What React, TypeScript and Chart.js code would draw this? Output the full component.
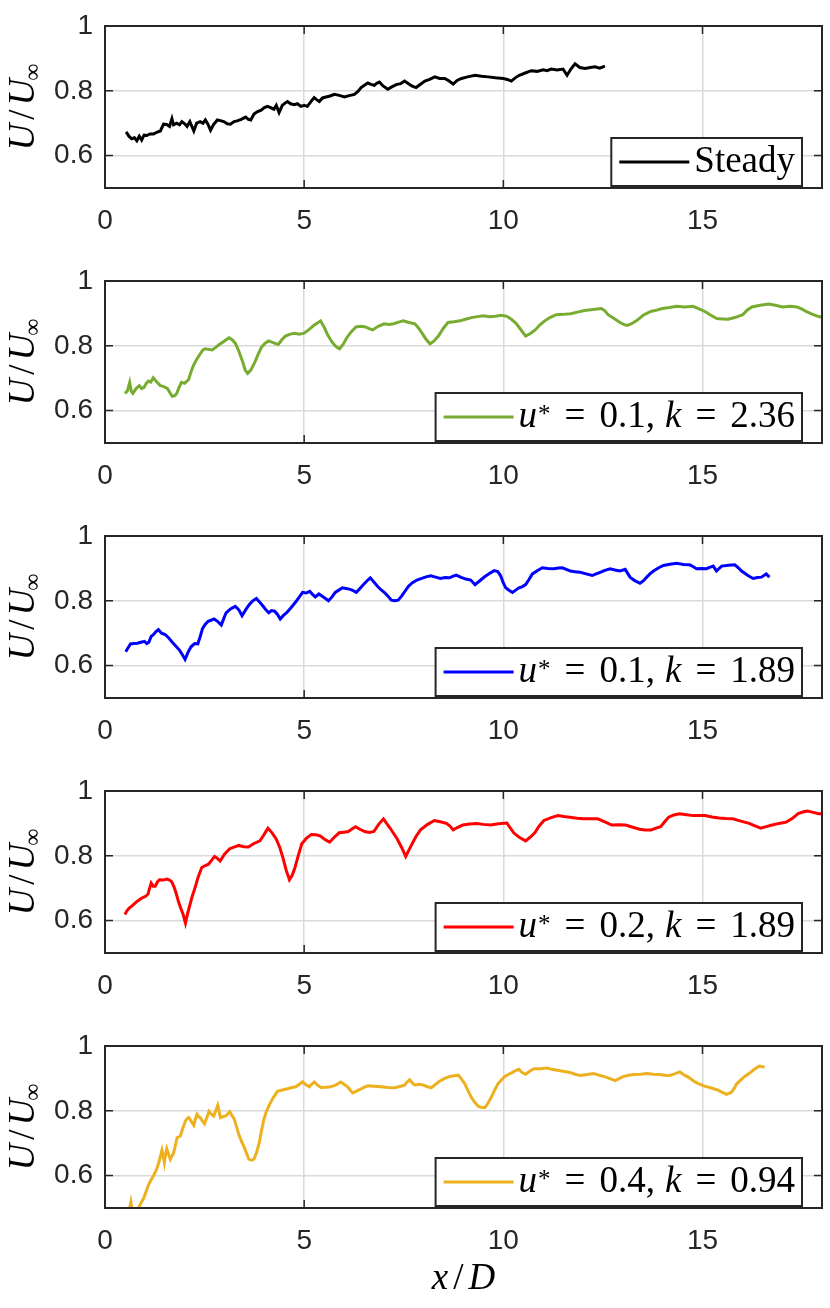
import React, { useEffect, useRef } from 'react';
import { Chart, registerables } from 'chart.js';

Chart.register(...registerables);

// x/D ticks and U/U_inf ticks
const xTicks = [0, 5, 10, 15];
const yTicks = [0.6, 0.8, 1];

// values, [x/D, U/U_inf]
const steady: [number, number][] = [
  [0.53, 0.673], [0.6, 0.66], [0.67, 0.652], [0.74, 0.655], [0.8, 0.646], [0.86, 0.66], [0.92, 0.648],
  [0.98, 0.663], [1.05, 0.662], [1.13, 0.667], [1.22, 0.667], [1.3, 0.672], [1.39, 0.676], [1.47, 0.697],
  [1.55, 0.696], [1.62, 0.69], [1.68, 0.714], [1.72, 0.695], [1.8, 0.7], [1.87, 0.695], [1.93, 0.705],
  [2.0, 0.698], [2.06, 0.69], [2.13, 0.705], [2.23, 0.676], [2.3, 0.7], [2.39, 0.705], [2.46, 0.7],
  [2.52, 0.71], [2.58, 0.698], [2.65, 0.678], [2.72, 0.695], [2.82, 0.71], [2.9, 0.708], [2.98, 0.705],
  [3.07, 0.698], [3.15, 0.697], [3.24, 0.705], [3.32, 0.707], [3.42, 0.712], [3.53, 0.719], [3.6, 0.712],
  [3.66, 0.71], [3.74, 0.728], [3.82, 0.735], [3.92, 0.74], [4.0, 0.748], [4.08, 0.752], [4.16, 0.748],
  [4.24, 0.743], [4.3, 0.755], [4.37, 0.733], [4.45, 0.755], [4.52, 0.762], [4.58, 0.767], [4.66, 0.76],
  [4.75, 0.757], [4.83, 0.76], [4.92, 0.752], [5.0, 0.755], [5.08, 0.752], [5.16, 0.765], [5.25, 0.779],
  [5.32, 0.772], [5.38, 0.767], [5.46, 0.778], [5.55, 0.781], [5.65, 0.784], [5.76, 0.789], [5.88, 0.786],
  [6.01, 0.781], [6.13, 0.785], [6.26, 0.789], [6.35, 0.798], [6.43, 0.81], [6.52, 0.818], [6.6, 0.824],
  [6.68, 0.82], [6.76, 0.817], [6.82, 0.823], [6.89, 0.827], [6.98, 0.815], [7.1, 0.805], [7.2, 0.812],
  [7.31, 0.819], [7.42, 0.822], [7.52, 0.83], [7.62, 0.822], [7.7, 0.815], [7.81, 0.81], [7.92, 0.82],
  [8.03, 0.83], [8.15, 0.835], [8.28, 0.843], [8.4, 0.838], [8.53, 0.838], [8.64, 0.83], [8.74, 0.821],
  [8.84, 0.832], [8.95, 0.838], [9.1, 0.843], [9.29, 0.848], [9.45, 0.845], [9.62, 0.843], [9.8, 0.84],
  [10.0, 0.838], [10.1, 0.835], [10.2, 0.83], [10.3, 0.84], [10.4, 0.848], [10.55, 0.855], [10.7, 0.862],
  [10.85, 0.86], [11.0, 0.865], [11.1, 0.862], [11.2, 0.867], [11.35, 0.864], [11.5, 0.867], [11.6, 0.848],
  [11.7, 0.868], [11.8, 0.883], [11.92, 0.872], [12.05, 0.869], [12.18, 0.872], [12.3, 0.874], [12.42, 0.87],
  [12.55, 0.876],
];

const u01k236: [number, number][] = [
  [0.5, 0.653], [0.56, 0.66], [0.62, 0.687], [0.66, 0.66], [0.7, 0.653], [0.78, 0.668], [0.86, 0.677],
  [0.92, 0.668], [0.98, 0.672], [1.04, 0.685], [1.09, 0.691], [1.15, 0.688], [1.21, 0.701], [1.3, 0.688],
  [1.39, 0.677], [1.48, 0.674], [1.57, 0.668], [1.63, 0.655], [1.69, 0.644], [1.75, 0.646], [1.8, 0.653],
  [1.86, 0.672], [1.92, 0.687], [2.0, 0.684], [2.1, 0.696], [2.16, 0.72], [2.22, 0.739], [2.3, 0.758],
  [2.4, 0.777], [2.45, 0.786], [2.51, 0.791], [2.6, 0.789], [2.69, 0.787], [2.78, 0.795], [2.87, 0.804],
  [3.0, 0.815], [3.11, 0.825], [3.2, 0.818], [3.28, 0.806], [3.37, 0.78], [3.46, 0.749], [3.52, 0.725],
  [3.58, 0.715], [3.66, 0.725], [3.76, 0.749], [3.85, 0.775], [3.93, 0.796], [4.02, 0.808], [4.11, 0.815],
  [4.22, 0.81], [4.35, 0.804], [4.45, 0.82], [4.53, 0.83], [4.65, 0.836], [4.76, 0.839], [4.88, 0.836],
  [5.0, 0.839], [5.12, 0.85], [5.24, 0.863], [5.33, 0.87], [5.41, 0.877], [5.5, 0.858], [5.59, 0.834],
  [5.68, 0.815], [5.77, 0.801], [5.83, 0.795], [5.89, 0.791], [5.98, 0.805], [6.07, 0.825], [6.18, 0.843],
  [6.3, 0.858], [6.42, 0.86], [6.54, 0.858], [6.63, 0.853], [6.72, 0.849], [6.86, 0.86], [7.01, 0.868],
  [7.13, 0.866], [7.25, 0.868], [7.37, 0.873], [7.49, 0.877], [7.63, 0.872], [7.78, 0.868], [7.87, 0.855],
  [7.96, 0.839], [8.06, 0.82], [8.16, 0.806], [8.26, 0.815], [8.37, 0.83], [8.5, 0.855], [8.61, 0.872],
  [8.76, 0.874], [8.91, 0.877], [9.05, 0.882], [9.2, 0.887], [9.35, 0.89], [9.5, 0.893], [9.65, 0.89],
  [9.8, 0.891], [9.95, 0.894], [10.09, 0.891], [10.2, 0.882], [10.33, 0.868], [10.45, 0.848], [10.56, 0.83],
  [10.68, 0.838], [10.8, 0.849], [10.92, 0.865], [11.04, 0.877], [11.18, 0.888], [11.33, 0.896], [11.5, 0.897],
  [11.69, 0.899], [11.86, 0.904], [12.04, 0.909], [12.25, 0.912], [12.46, 0.915], [12.55, 0.908], [12.63, 0.896],
  [12.78, 0.884], [12.93, 0.872], [13.02, 0.866], [13.11, 0.863], [13.22, 0.868], [13.34, 0.877], [13.52, 0.895],
  [13.7, 0.906], [13.85, 0.91], [13.99, 0.915], [14.17, 0.918], [14.35, 0.922], [14.55, 0.92], [14.76, 0.922],
  [14.9, 0.915], [15.06, 0.906], [15.2, 0.895], [15.36, 0.884], [15.5, 0.883], [15.65, 0.882], [15.83, 0.888],
  [16.01, 0.896], [16.12, 0.91], [16.24, 0.92], [16.45, 0.925], [16.66, 0.929], [16.83, 0.925], [17.01, 0.92],
  [17.2, 0.922], [17.37, 0.92], [17.5, 0.913], [17.6, 0.906], [17.75, 0.898], [17.9, 0.891], [18.0, 0.888],
];

const u01k189: [number, number][] = [
  [0.52, 0.643], [0.58, 0.655], [0.64, 0.667], [0.72, 0.668], [0.81, 0.669], [0.9, 0.672], [0.99, 0.675],
  [1.05, 0.668], [1.1, 0.672], [1.16, 0.69], [1.22, 0.696], [1.28, 0.705], [1.34, 0.711], [1.42, 0.7],
  [1.51, 0.696], [1.6, 0.685], [1.69, 0.672], [1.78, 0.66], [1.87, 0.648], [1.95, 0.632], [2.01, 0.619],
  [2.08, 0.64], [2.16, 0.658], [2.25, 0.668], [2.33, 0.667], [2.39, 0.69], [2.45, 0.715], [2.52, 0.728],
  [2.59, 0.737], [2.66, 0.74], [2.74, 0.744], [2.84, 0.735], [2.92, 0.725], [2.98, 0.745], [3.04, 0.763],
  [3.15, 0.775], [3.27, 0.783], [3.36, 0.772], [3.44, 0.754], [3.53, 0.772], [3.62, 0.788], [3.71, 0.8],
  [3.8, 0.807], [3.89, 0.795], [3.97, 0.783], [4.04, 0.772], [4.11, 0.763], [4.18, 0.77], [4.26, 0.768],
  [4.33, 0.758], [4.4, 0.744], [4.48, 0.755], [4.56, 0.763], [4.68, 0.78], [4.79, 0.797], [4.88, 0.812],
  [4.96, 0.826], [5.05, 0.824], [5.14, 0.829], [5.21, 0.82], [5.28, 0.812], [5.37, 0.821], [5.5, 0.81],
  [5.61, 0.8], [5.7, 0.812], [5.78, 0.826], [5.87, 0.833], [5.96, 0.84], [6.05, 0.838], [6.13, 0.836],
  [6.22, 0.832], [6.31, 0.826], [6.4, 0.838], [6.49, 0.85], [6.58, 0.862], [6.66, 0.871], [6.75, 0.858],
  [6.84, 0.845], [6.92, 0.835], [7.01, 0.826], [7.1, 0.815], [7.19, 0.802], [7.27, 0.8], [7.36, 0.802],
  [7.45, 0.815], [7.54, 0.831], [7.62, 0.845], [7.71, 0.855], [7.83, 0.864], [7.95, 0.869], [8.06, 0.874],
  [8.18, 0.877], [8.3, 0.873], [8.42, 0.869], [8.54, 0.872], [8.65, 0.871], [8.74, 0.876], [8.82, 0.879],
  [8.94, 0.872], [9.06, 0.867], [9.18, 0.864], [9.29, 0.85], [9.41, 0.862], [9.53, 0.874], [9.65, 0.884],
  [9.77, 0.893], [9.86, 0.89], [9.93, 0.878], [10.0, 0.855], [10.06, 0.84], [10.15, 0.832], [10.23, 0.826],
  [10.31, 0.833], [10.39, 0.84], [10.47, 0.843], [10.56, 0.85], [10.64, 0.865], [10.73, 0.883], [10.85, 0.893],
  [10.98, 0.902], [11.12, 0.9], [11.27, 0.899], [11.38, 0.901], [11.48, 0.902], [11.58, 0.897], [11.68, 0.892],
  [11.8, 0.89], [11.93, 0.888], [12.08, 0.883], [12.23, 0.878], [12.33, 0.883], [12.43, 0.888], [12.55, 0.894],
  [12.68, 0.899], [12.8, 0.895], [12.93, 0.892], [13.06, 0.897], [13.18, 0.873], [13.3, 0.862], [13.43, 0.854],
  [13.52, 0.862], [13.6, 0.873], [13.68, 0.883], [13.77, 0.892], [13.9, 0.902], [14.02, 0.909], [14.18, 0.913],
  [14.35, 0.916], [14.52, 0.912], [14.68, 0.911], [14.77, 0.905], [14.85, 0.899], [14.98, 0.9], [15.1, 0.899],
  [15.18, 0.903], [15.27, 0.907], [15.35, 0.892], [15.48, 0.907], [15.65, 0.91], [15.81, 0.911], [15.9, 0.902],
  [15.98, 0.892], [16.06, 0.885], [16.14, 0.878], [16.27, 0.869], [16.38, 0.872], [16.48, 0.873], [16.6, 0.883],
  [16.68, 0.873],
];

const u02k189: [number, number][] = [
  [0.5, 0.619], [0.55, 0.63], [0.61, 0.639], [0.7, 0.648], [0.79, 0.658], [0.88, 0.666], [0.96, 0.672],
  [1.02, 0.675], [1.08, 0.682], [1.12, 0.7], [1.16, 0.716], [1.21, 0.706], [1.26, 0.706], [1.32, 0.72],
  [1.37, 0.726], [1.46, 0.725], [1.55, 0.728], [1.61, 0.726], [1.67, 0.721], [1.73, 0.705], [1.78, 0.687],
  [1.84, 0.66], [1.9, 0.639], [1.96, 0.62], [2.02, 0.592], [2.07, 0.62], [2.13, 0.648], [2.19, 0.675],
  [2.25, 0.697], [2.34, 0.735], [2.43, 0.764], [2.52, 0.77], [2.6, 0.774], [2.67, 0.785], [2.75, 0.798],
  [2.82, 0.792], [2.89, 0.784], [3.0, 0.805], [3.13, 0.822], [3.24, 0.827], [3.36, 0.832], [3.48, 0.828],
  [3.6, 0.827], [3.74, 0.838], [3.89, 0.846], [3.99, 0.865], [4.09, 0.885], [4.2, 0.87], [4.3, 0.851],
  [4.39, 0.825], [4.47, 0.793], [4.55, 0.755], [4.63, 0.726], [4.7, 0.74], [4.77, 0.764], [4.85, 0.8],
  [4.94, 0.837], [5.06, 0.855], [5.18, 0.866], [5.3, 0.865], [5.41, 0.861], [5.52, 0.85], [5.64, 0.842],
  [5.76, 0.858], [5.88, 0.871], [6.0, 0.873], [6.11, 0.875], [6.2, 0.883], [6.29, 0.89], [6.4, 0.882],
  [6.52, 0.875], [6.64, 0.872], [6.75, 0.875], [6.87, 0.897], [6.99, 0.914], [7.07, 0.9], [7.16, 0.885],
  [7.25, 0.868], [7.34, 0.851], [7.45, 0.825], [7.55, 0.798], [7.62, 0.815], [7.69, 0.832], [7.8, 0.858],
  [7.92, 0.88], [8.1, 0.897], [8.27, 0.909], [8.42, 0.905], [8.57, 0.9], [8.66, 0.892], [8.74, 0.88],
  [8.86, 0.888], [8.98, 0.895], [9.15, 0.898], [9.33, 0.9], [9.5, 0.897], [9.68, 0.895], [9.88, 0.899],
  [10.09, 0.901], [10.18, 0.885], [10.26, 0.871], [10.4, 0.857], [10.56, 0.846], [10.68, 0.858], [10.79, 0.871],
  [10.9, 0.892], [11.02, 0.909], [11.2, 0.918], [11.37, 0.924], [11.52, 0.921], [11.67, 0.919], [11.85, 0.916],
  [12.02, 0.914], [12.2, 0.914], [12.37, 0.914], [12.55, 0.905], [12.72, 0.895], [12.9, 0.896], [13.07, 0.895],
  [13.25, 0.888], [13.42, 0.882], [13.56, 0.88], [13.71, 0.88], [13.85, 0.886], [13.95, 0.89], [14.05, 0.905],
  [14.15, 0.919], [14.28, 0.926], [14.42, 0.93], [14.6, 0.927], [14.77, 0.924], [14.92, 0.924], [15.06, 0.924],
  [15.24, 0.92], [15.41, 0.917], [15.58, 0.915], [15.76, 0.914], [15.96, 0.907], [16.17, 0.9], [16.32, 0.892],
  [16.46, 0.885], [16.6, 0.89], [16.75, 0.895], [16.92, 0.9], [17.1, 0.904], [17.25, 0.915], [17.4, 0.93],
  [17.52, 0.935], [17.63, 0.938], [17.78, 0.934], [17.92, 0.93], [18.0, 0.93],
];

const u04k094: [number, number][] = [
  [0.55, 0.47], [0.62, 0.5], [0.65, 0.518], [0.68, 0.495], [0.74, 0.47], [0.8, 0.485], [0.84, 0.5],
  [0.9, 0.515], [0.97, 0.53], [1.03, 0.55], [1.09, 0.571], [1.15, 0.585], [1.22, 0.6], [1.3, 0.621],
  [1.35, 0.64], [1.39, 0.659], [1.43, 0.678], [1.46, 0.66], [1.49, 0.64], [1.52, 0.665], [1.55, 0.683],
  [1.6, 0.665], [1.64, 0.65], [1.68, 0.66], [1.72, 0.669], [1.77, 0.695], [1.81, 0.717], [1.85, 0.72],
  [1.89, 0.722], [1.95, 0.745], [2.02, 0.769], [2.06, 0.776], [2.1, 0.779], [2.16, 0.768], [2.23, 0.755],
  [2.27, 0.775], [2.31, 0.789], [2.35, 0.782], [2.39, 0.779], [2.45, 0.768], [2.5, 0.76], [2.56, 0.78],
  [2.61, 0.798], [2.67, 0.79], [2.73, 0.784], [2.78, 0.8], [2.83, 0.817], [2.87, 0.795], [2.9, 0.779],
  [2.96, 0.782], [3.03, 0.784], [3.08, 0.79], [3.13, 0.797], [3.19, 0.785], [3.24, 0.776], [3.3, 0.752],
  [3.36, 0.727], [3.42, 0.708], [3.49, 0.689], [3.55, 0.67], [3.61, 0.651], [3.68, 0.648], [3.74, 0.651],
  [3.8, 0.67], [3.87, 0.699], [3.93, 0.74], [3.99, 0.774], [4.05, 0.797], [4.12, 0.817], [4.22, 0.84],
  [4.33, 0.86], [4.45, 0.864], [4.58, 0.868], [4.69, 0.872], [4.79, 0.874], [4.88, 0.882], [4.96, 0.889],
  [5.05, 0.88], [5.13, 0.874], [5.19, 0.882], [5.25, 0.889], [5.33, 0.88], [5.42, 0.872], [5.55, 0.873],
  [5.67, 0.874], [5.8, 0.88], [5.92, 0.889], [6.0, 0.882], [6.09, 0.874], [6.15, 0.865], [6.22, 0.855],
  [6.3, 0.86], [6.39, 0.865], [6.5, 0.872], [6.6, 0.877], [6.76, 0.876], [6.93, 0.874], [7.1, 0.872],
  [7.27, 0.871], [7.4, 0.875], [7.52, 0.879], [7.58, 0.888], [7.65, 0.896], [7.71, 0.887], [7.77, 0.88],
  [7.88, 0.882], [7.98, 0.88], [8.08, 0.875], [8.19, 0.871], [8.3, 0.882], [8.4, 0.891], [8.53, 0.9],
  [8.66, 0.906], [8.77, 0.908], [8.87, 0.91], [8.95, 0.898], [9.03, 0.884], [9.11, 0.863], [9.2, 0.841],
  [9.28, 0.826], [9.37, 0.814], [9.45, 0.81], [9.54, 0.81], [9.62, 0.825], [9.71, 0.845], [9.79, 0.866],
  [9.87, 0.884], [9.95, 0.895], [10.03, 0.905], [10.12, 0.912], [10.22, 0.918], [10.32, 0.925], [10.39, 0.928],
  [10.47, 0.918], [10.56, 0.913], [10.66, 0.922], [10.77, 0.93], [10.93, 0.93], [11.1, 0.932], [11.22, 0.928],
  [11.35, 0.925], [11.5, 0.922], [11.68, 0.918], [11.8, 0.913], [11.93, 0.909], [12.1, 0.912], [12.27, 0.915],
  [12.4, 0.91], [12.52, 0.906], [12.66, 0.9], [12.81, 0.893], [12.92, 0.9], [13.02, 0.906], [13.15, 0.91],
  [13.27, 0.912], [13.45, 0.913], [13.6, 0.915], [13.77, 0.913], [13.93, 0.912], [14.05, 0.91], [14.18, 0.909],
  [14.3, 0.914], [14.43, 0.92], [14.55, 0.91], [14.68, 0.901], [14.8, 0.89], [14.93, 0.882], [15.05, 0.876],
  [15.18, 0.872], [15.28, 0.868], [15.39, 0.864], [15.5, 0.857], [15.6, 0.851], [15.67, 0.854], [15.73, 0.858],
  [15.8, 0.87], [15.85, 0.882], [15.95, 0.894], [16.06, 0.906], [16.17, 0.915], [16.27, 0.925], [16.35, 0.932],
  [16.43, 0.938], [16.5, 0.936], [16.56, 0.935],
];

const SERIF = "'Liberation Serif', 'Times New Roman', serif";
const SANS = "'Liberation Sans', Arial, Helvetica, sans-serif";
const AXIS = '#262626';
const rm = (s: number) => `${s}px ${SERIF}`;
const it = (s: number) => `italic ${s}px ${SERIF}`;

type Seg = { t: string; font: string; dx?: number; dy?: number };

function drawRich(ctx: CanvasRenderingContext2D, segs: Seg[], x: number, y: number, draw = true) {
  let cx = x;
  for (const s of segs) {
    cx += s.dx || 0;
    ctx.font = s.font;
    if (draw) ctx.fillText(s.t, cx, y + (s.dy || 0));
    cx += ctx.measureText(s.t).width;
  }
  return cx - x;
}

const mathLegend = (u: string, k: string): Seg[] => [
  { t: 'u', font: it(37) },
  { t: '*', font: rm(25), dx: 1, dy: -5 },
  { t: '=', font: rm(37), dx: 14 },
  { t: u + ',', font: rm(37), dx: 14 },
  { t: 'k', font: it(37), dx: 10 },
  { t: '=', font: rm(37), dx: 14 },
  { t: k, font: rm(37), dx: 14 },
];

const yTitle: Seg[] = [
  { t: 'U', font: it(37) },
  { t: '/', font: rm(37), dx: 4 },
  { t: 'U', font: it(37), dx: 4 },
  { t: '\u221E', font: rm(24), dx: -2, dy: 6 },
];

const xTitle: Seg[] = [
  { t: 'x', font: it(37) },
  { t: '/', font: rm(37), dx: 5 },
  { t: 'D', font: it(37), dx: 5 },
];

type PanelProps = {
  series: [number, number][];
  color: string;
  legend: Seg[];
  height: number;
  showXTitle?: boolean;
};

function Panel({ series, color, legend, height, showXTitle }: PanelProps) {
  const canvasRef = useRef<HTMLCanvasElement | null>(null);

  useEffect(() => {
    if (!canvasRef.current) return;

    const decor = {
      id: 'decor',
      afterDraw(chart: any) {
        const ctx: CanvasRenderingContext2D = chart.ctx;
        const { left, right, top, bottom } = chart.chartArea;
        const xs = chart.scales.x;
        const ys = chart.scales.y;
        ctx.save();

        // inward ticks
        ctx.strokeStyle = AXIS;
        ctx.lineWidth = 1.5;
        ctx.beginPath();
        for (const v of xTicks) {
          const px = xs.getPixelForValue(v);
          ctx.moveTo(px, bottom); ctx.lineTo(px, bottom - 8);
          ctx.moveTo(px, top); ctx.lineTo(px, top + 8);
        }
        for (const v of yTicks) {
          const py = ys.getPixelForValue(v);
          ctx.moveTo(left, py); ctx.lineTo(left + 8, py);
          ctx.moveTo(right, py); ctx.lineTo(right - 8, py);
        }
        ctx.stroke();

        // axes box
        ctx.lineWidth = 2;
        ctx.strokeRect(left, top, right - left, bottom - top);

        // legend
        ctx.textBaseline = 'alphabetic';
        const tw = drawRich(ctx, legend, 0, 0, false);
        const boxR = right - 20;
        const textX = boxR - 7 - tw;
        const boxL = textX - 5 - 70 - 8;
        const boxT = top + 112;
        const boxB = top + 160;
        ctx.fillStyle = '#ffffff';
        ctx.fillRect(boxL, boxT, boxR - boxL, boxB - boxT);
        ctx.lineWidth = 2;
        ctx.strokeStyle = AXIS;
        ctx.strokeRect(boxL, boxT, boxR - boxL, boxB - boxT);
        ctx.strokeStyle = color;
        ctx.lineWidth = 3;
        ctx.beginPath();
        ctx.moveTo(boxL + 8, (boxT + boxB) / 2);
        ctx.lineTo(boxL + 78, (boxT + boxB) / 2);
        ctx.stroke();
        ctx.fillStyle = '#000000';
        drawRich(ctx, legend, textX, (boxT + boxB) / 2 + 10);

        // y title
        ctx.fillStyle = '#000000';
        const yw = drawRich(ctx, yTitle, 0, 0, false);
        ctx.translate(34, (top + bottom) / 2);
        ctx.rotate(-Math.PI / 2);
        drawRich(ctx, yTitle, -yw / 2, 0);
        ctx.restore();

        if (showXTitle) {
          ctx.save();
          ctx.fillStyle = '#000000';
          ctx.textBaseline = 'alphabetic';
          const xw = drawRich(ctx, xTitle, 0, 0, false);
          drawRich(ctx, xTitle, (left + right) / 2 - xw / 2, bottom + 81);
          ctx.restore();
        }
      },
    };

    const chart = new Chart(canvasRef.current, {
      type: 'line',
      data: {
        datasets: [{
          data: series.map(([x, y]) => ({ x, y })),
          borderColor: color,
          borderWidth: 3,
          pointRadius: 0,
          tension: 0,
          clip: 0,
        } as any],
      },
      options: {
        animation: false,
        responsive: true,
        maintainAspectRatio: false,
        layout: { padding: { top: 14, right: 8, left: 0, bottom: 0 } },
        plugins: { legend: { display: false }, tooltip: { enabled: false } },
        scales: {
          x: {
            type: 'linear',
            min: 0,
            max: 18,
            afterBuildTicks: (s: any) => { s.ticks = xTicks.map((v) => ({ value: v })); },
            afterFit: (s: any) => { s.height = height - 188; },
            border: { display: false },
            grid: { color: '#dadada', lineWidth: 1.5, drawTicks: false },
            ticks: {
              padding: 16,
              color: AXIS,
              font: { family: SANS, size: 28 },
              callback: (v: any) => String(v),
            },
          },
          y: {
            type: 'linear',
            min: 0.5,
            max: 1,
            afterBuildTicks: (s: any) => { s.ticks = yTicks.map((v) => ({ value: v })); },
            afterFit: (s: any) => { s.width = 105; },
            border: { display: false },
            grid: { color: '#dadada', lineWidth: 1.5, drawTicks: false },
            ticks: {
              padding: 12,
              color: AXIS,
              font: { family: SANS, size: 28, lineHeight: 1 },
              callback: (v: any) => (v === 1 ? '1' : Number(v).toFixed(1)),
            },
          },
        },
      },
      plugins: [decor],
    });

    return () => chart.destroy();
  }, [series, color, legend, height, showXTitle]);

  return (
    <div style={{ position: 'relative', width: 830, height }}>
      <canvas ref={canvasRef} />
    </div>
  );
}

const panels = [
  { series: steady, color: '#000000', legend: [{ t: 'Steady', font: rm(37) }] as Seg[] },
  { series: u01k236, color: '#77AC30', legend: mathLegend('0.1', '2.36') },
  { series: u01k189, color: '#0000FF', legend: mathLegend('0.1', '1.89') },
  { series: u02k189, color: '#FF0000', legend: mathLegend('0.2', '1.89') },
  { series: u04k094, color: '#EDB120', legend: mathLegend('0.4', '0.94') },
];

export default function App() {
  return (
    <div style={{ position: 'absolute', left: 0, top: 0, width: 830, height: 1308, background: '#ffffff' }}>
      {panels.map((p, i) => (
        <Panel
          key={i}
          series={p.series}
          color={p.color}
          legend={p.legend}
          height={i === panels.length - 1 ? 288 : 255}
          showXTitle={i === panels.length - 1}
        />
      ))}
    </div>
  );
}
